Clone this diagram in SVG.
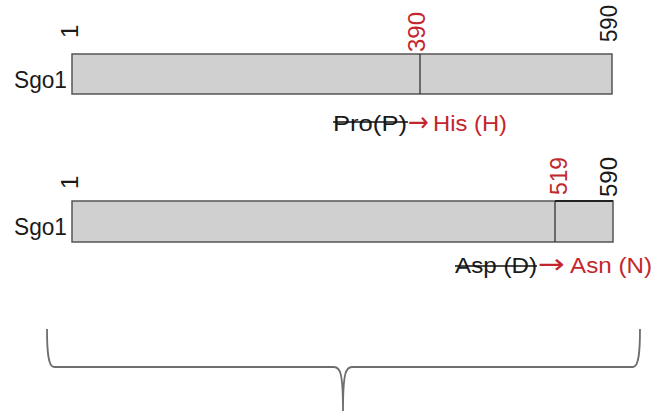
<svg xmlns="http://www.w3.org/2000/svg" width="659" height="416" viewBox="0 0 659 416">
<style>
.lbl{font-family:"Liberation Sans",Arial,sans-serif;font-size:22px;fill:#1a1a1a}
.name{font-size:24px}
.num{font-family:"Liberation Sans",Arial,sans-serif;font-size:24px;fill:#1a1a1a}
.arr{font-family:"DejaVu Sans",sans-serif;font-size:27px}
.red{fill:#c3272d}
.bar{fill:#d0d0d0;stroke:#555;stroke-width:1.5}
.div{stroke:#333;stroke-width:1.3}
.strike{stroke:#111;stroke-width:1.5}
.brace{fill:none;stroke:#6e6e6e;stroke-width:1.8}
</style>
<rect width="659" height="416" fill="#fff"/>
<g id="protein1">
<text class="lbl name" x="14" y="88" textLength="53" lengthAdjust="spacingAndGlyphs">Sgo1</text>
<rect class="bar" x="72" y="54" width="540" height="40"/>
<line class="div" x1="420" y1="54" x2="420" y2="94"/>
<text class="num" transform="translate(78,38) rotate(-90)">1</text>
<text class="num red" transform="translate(425,52) rotate(-90)" textLength="40" lengthAdjust="spacingAndGlyphs">390</text>
<text class="num" transform="translate(617,42) rotate(-90)" textLength="37" lengthAdjust="spacingAndGlyphs">590</text>
</g>
<g id="mutation1">
<text class="lbl" x="333" y="131" textLength="74" lengthAdjust="spacingAndGlyphs">Pro(P)</text>
<line class="strike" x1="333" y1="122" x2="408" y2="122"/>
<text class="lbl arr red" x="408" y="131" textLength="21" lengthAdjust="spacingAndGlyphs">→</text>
<text class="lbl red" x="433" y="131" textLength="74" lengthAdjust="spacingAndGlyphs">His (H)</text>
</g>
<g id="protein2">
<text class="lbl name" x="14" y="235" textLength="53" lengthAdjust="spacingAndGlyphs">Sgo1</text>
<rect class="bar" x="72" y="201" width="541" height="41"/>
<line class="div" x1="555" y1="201" x2="555" y2="242"/>
<line stroke="#222" stroke-width="1.8" x1="555" y1="201" x2="613" y2="201"/>
<text class="num" transform="translate(78,189) rotate(-90)">1</text>
<text class="num red" transform="translate(567,195) rotate(-90)" textLength="38" lengthAdjust="spacingAndGlyphs">519</text>
<text class="num" transform="translate(617,197) rotate(-90)" textLength="40" lengthAdjust="spacingAndGlyphs">590</text>
</g>
<g id="mutation2">
<text class="lbl" x="455" y="273" textLength="82" lengthAdjust="spacingAndGlyphs">Asp (D)</text>
<line class="strike" x1="455" y1="266" x2="537" y2="266"/>
<text class="lbl arr red" x="538" y="273" textLength="27" lengthAdjust="spacingAndGlyphs">→</text>
<text class="lbl red" x="570" y="273" textLength="82" lengthAdjust="spacingAndGlyphs">Asn (N)</text>
</g>
<g id="connectors">
<path class="brace" d="M47,329 C47,350 48,367 54,367 L334,367 C340,367 343,372 343,411 C343,372 346,367 352,367 L633,367 C639,367 640,350 640,329"/>
</g>
</svg>
